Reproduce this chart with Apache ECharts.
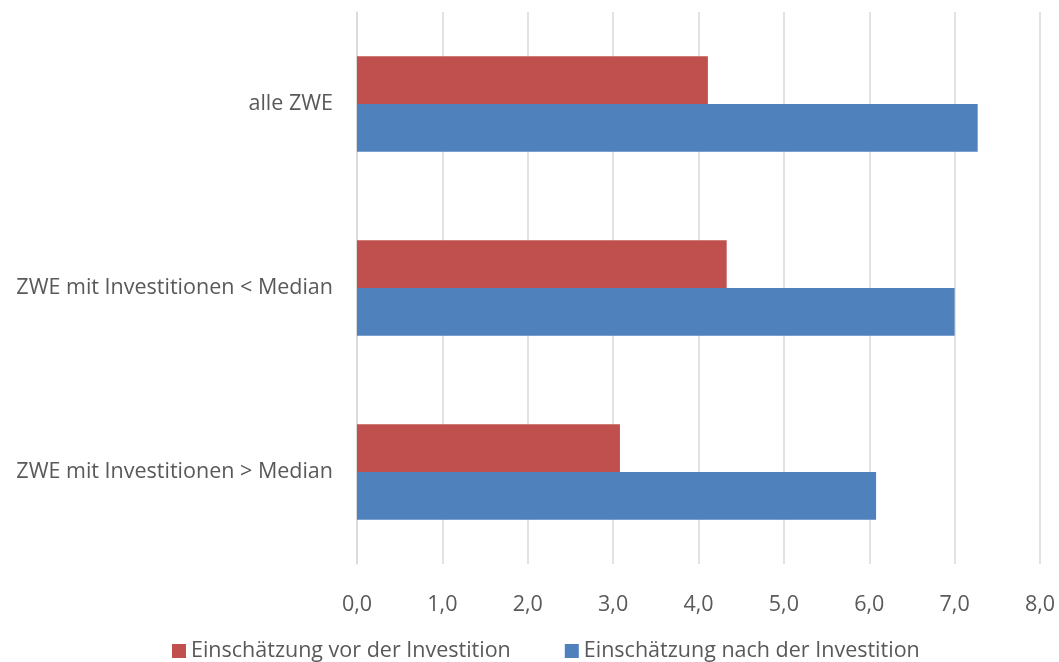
<!DOCTYPE html>
<html>
<head>
<meta charset="utf-8">
<script src="https://cdn.jsdelivr.net/npm/echarts@6/dist/echarts.min.js"></script>
<style>
html,body{margin:0;padding:0;background:#fff;}
#chart{width:1059px;height:662px;}
</style>
</head>
<body>
<div id="chart"></div>
<script>
const categories = ['alle ZWE', 'ZWE mit Investitionen < Median', 'ZWE mit Investitionen > Median'];
const seriesNames = ['Einschätzung vor der Investition', 'Einschätzung nach der Investition'];
const vorValues = [4.11, 4.33, 3.08];
const nachValues = [7.27, 7.0, 6.08];
const xTicks = { min: 0, max: 8, interval: 1 };

const font = '"Open Sans", "Noto Sans", sans-serif';
const textColor = '#595959';
const fs = 21.5;
const chart = echarts.init(document.getElementById('chart'), null, { renderer: 'canvas' });
chart.setOption({
  animation: false,
  backgroundColor: '#ffffff',
  textStyle: { fontFamily: font, color: textColor },
  grid: { left: 357, right: 19, top: 12, bottom: 98, containLabel: false },
  legend: {
    top: 635,
    left: 167,
    itemWidth: 14,
    itemHeight: 14,
    itemGap: 54,
    icon: 'rect',
    textStyle: { fontFamily: font, fontSize: fs, color: textColor },
    data: seriesNames
  },
  xAxis: {
    type: 'value',
    min: xTicks.min,
    max: xTicks.max,
    interval: xTicks.interval,
    axisLine: { show: false },
    axisTick: { show: false },
    splitLine: { show: true, lineStyle: { color: '#d9d9d9', width: 1.5 } },
    axisLabel: {
      fontFamily: font, fontSize: fs, color: textColor, margin: 30,
      formatter: v => v.toFixed(1).replace('.', ',')
    }
  },
  yAxis: {
    type: 'category',
    inverse: true,
    data: categories,
    axisLine: { show: true, lineStyle: { color: '#d9d9d9', width: 1.5 } },
    axisTick: { show: false },
    axisLabel: { fontFamily: font, fontSize: fs, color: textColor, margin: 24 }
  },
  series: [
    { name: seriesNames[0], type: 'bar', data: vorValues, barGap: '0%', barCategoryGap: '48%',
      itemStyle: { color: '#c0504d' } },
    { name: seriesNames[1], type: 'bar', data: nachValues, barGap: '0%', barCategoryGap: '48%',
      itemStyle: { color: '#4f81bd' } }
  ]
});
</script>
</body>
</html>
